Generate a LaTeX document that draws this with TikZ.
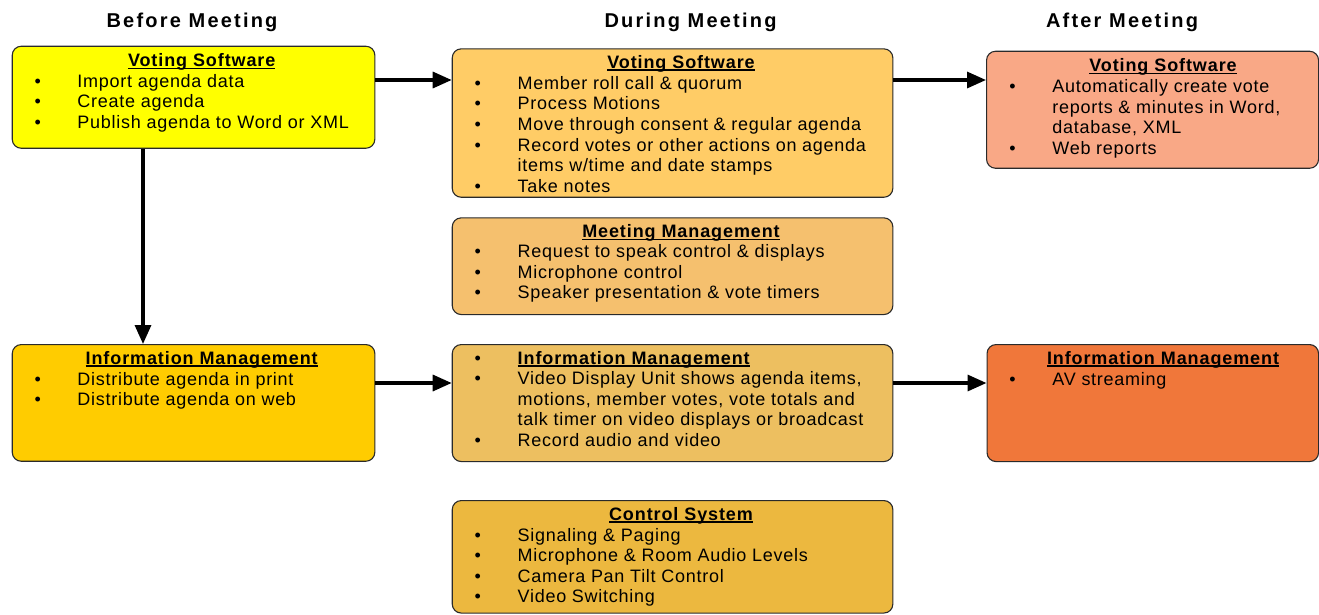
\documentclass[tikz,border=0pt]{standalone}
\usepackage{fontspec}
\usetikzlibrary{arrows.meta}
\newfontfamily\bodyfont{Liberation Sans}[LetterSpace=4]
\newfontfamily\titlefont{Liberation Sans}[LetterSpace=5]
\newfontfamily\headfont{Liberation Sans}[LetterSpace=11]
\newsavebox\ttlbox
\newcommand\ttl[1]{{\titlefont\bfseries\sbox\ttlbox{#1}\rlap{\vrule height -0.9pt depth 2.5pt width \wd\ttlbox}\usebox\ttlbox}}
\definecolor{cA}{HTML}{FFFF00}
\definecolor{cB}{HTML}{FFCC00}
\definecolor{cC}{HTML}{FFCC66}
\definecolor{cD}{HTML}{F5C06E}
\definecolor{cE}{HTML}{EDBF60}
\definecolor{cF}{HTML}{ECB83F}
\definecolor{cG}{HTML}{F9A886}
\definecolor{cH}{HTML}{F0773A}
\definecolor{edge}{HTML}{2A2A2A}
\tikzset{
  box/.style={draw=edge, line width=1.1pt, rounded corners=9pt, anchor=north west, inner sep=0pt},
  txt/.style={inner sep=0pt, font=\bodyfont\fontsize{18}{20.6}\selectfont, text=black},
  ttlnode/.style={inner sep=0pt, anchor=base, font=\fontsize{18}{20.6}\selectfont},
  head/.style={inner sep=0pt, anchor=base, font=\headfont\bfseries\fontsize{20}{24}\selectfont},
  lst/.style={txt, anchor=base west},
  arr/.style={line width=3.3pt, -{Triangle[length=19pt,width=16pt]}}
}
\begin{document}
\begin{tikzpicture}[x=1pt,y=-1pt]
\useasboundingbox (0,0) rectangle (1319,614);
% headings
\node[head] (hBefore) at (192,27.3) {Before Meeting};
\node[head] (hDuring) at (690.5,27.3) {During Meeting};
\node[head] (hAfter) at (1122,27.3) {After Meeting};
% boxes
\node[box, fill=cA, minimum width=362.6pt, minimum height=102pt] (A) at (11.7,45.7) {};
\node[box, fill=cB, minimum width=362.6pt, minimum height=116.7pt] (B) at (11.7,344) {};
\node[box, fill=cC, minimum width=440.6pt, minimum height=148.4pt] (C) at (451.7,48.3) {};
\node[box, fill=cD, minimum width=440.6pt, minimum height=96.7pt] (D) at (451.7,217.3) {};
\node[box, fill=cE, minimum width=440.6pt, minimum height=117pt] (E) at (451.7,344) {};
\node[box, fill=cF, minimum width=440.6pt, minimum height=112.5pt] (F) at (451.7,500) {};
\node[box, fill=cG, minimum width=332pt, minimum height=117pt] (G) at (986,50.7) {};
\node[box, fill=cH, minimum width=331.5pt, minimum height=117pt] (H) at (986.5,344) {};
% box A
\node[ttlnode] (At) at (201.7,66.7) {\ttl{Voting Software}};
\node[lst] (Al) at (34.3,87.3) {\begin{tabular}[t]{@{}p{43pt}@{}l@{}}
•&Import agenda data\\
•&Create agenda\\
•&Publish agenda to Word or XML
\end{tabular}};
% box B
\node[ttlnode] (Bt) at (201.7,364) {\ttl{Information Management}};
\node[lst] (Bl) at (34.3,385) {\begin{tabular}[t]{@{}p{43pt}@{}l@{}}
•&Distribute agenda in print\\
•&Distribute agenda on web
\end{tabular}};
% box C
\node[ttlnode] (Ct) at (681,68.3) {\ttl{Voting Software}};
\node[lst] (Cl) at (474.5,89.3) {\begin{tabular}[t]{@{}p{43pt}@{}l@{}}
•&Member roll call \& quorum\\
•&Process Motions\\
•&Move through consent \& regular agenda\\
•&Record votes or other actions on agenda\\
&items w/time and date stamps\\
•&Take notes
\end{tabular}};
% box D
\node[ttlnode] (Dt) at (681,237.7) {\ttl{Meeting Management}};
\node[lst] (Dl) at (474.5,257.7) {\begin{tabular}[t]{@{}p{43pt}@{}l@{}}
•&Request to speak control \& displays\\
•&Microphone control\\
•&Speaker presentation \& vote timers
\end{tabular}};
% box E
\node[lst] (El) at (474.5,364) {\begin{tabular}[t]{@{}p{43pt}@{}l@{}}
•&\ttl{Information Management}\\
•&Video Display Unit shows agenda items,\\
&motions, member votes, vote totals and\\
&talk timer on video displays or broadcast\\
•&Record audio and video
\end{tabular}};
% box F
\node[ttlnode] (Ft) at (681,520) {\ttl{Control System}};
\node[lst] (Fl) at (474.5,541) {\begin{tabular}[t]{@{}p{43pt}@{}l@{}}
•&Signaling \& Paging\\
•&Microphone \& Room Audio Levels\\
•&Camera Pan Tilt Control\\
•&Video Switching
\end{tabular}};
% box G
\node[ttlnode] (Gt) at (1163,71.7) {\ttl{Voting Software}};
\node[lst] (Gl) at (1009.2,92.7) {\begin{tabular}[t]{@{}p{43pt}@{}l@{}}
•&Automatically create vote\\
&reports \& minutes in Word,\\
&database, XML\\
•&Web reports
\end{tabular}};
% box H
\node[ttlnode] (Ht) at (1163,364) {\ttl{Information Management}};
\node[lst] (Hl) at (1009.2,385) {\begin{tabular}[t]{@{}p{43pt}@{}l@{}}
•&AV streaming
\end{tabular}};
% connectors
\coordinate (ytop) at (0,80);
\coordinate (ymid) at (0,383);
\coordinate (xdown) at (143,0);
\draw[arr] (A.east |- ytop) -- (C.west |- ytop);
\draw[arr] (C.east |- ytop) -- (G.west |- ytop);
\draw[arr] (A.south -| xdown) -- (B.north -| xdown);
\draw[arr] (B.east |- ymid) -- (E.west |- ymid);
\draw[arr] (E.east |- ymid) -- (H.west |- ymid);
\end{tikzpicture}
\end{document}
